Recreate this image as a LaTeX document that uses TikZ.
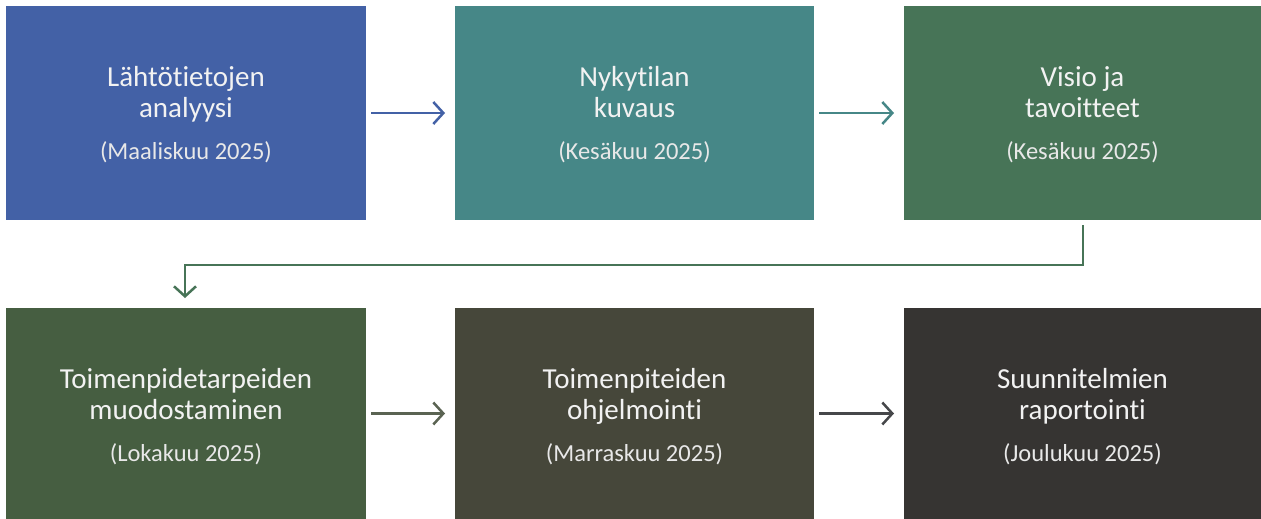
\documentclass[tikz,border=0pt]{standalone}
\usepackage{fontspec}
\setmainfont{Carlito}[Ligatures={NoCommon}]
\usetikzlibrary{arrows.meta,calc}
\definecolor{cA}{HTML}{4361A6}
\definecolor{cB}{HTML}{468787}
\definecolor{cC}{HTML}{477457}
\definecolor{cD}{HTML}{465E41}
\definecolor{cE}{HTML}{46473A}
\definecolor{cF}{HTML}{363432}
\definecolor{aD}{HTML}{5A6352}
\definecolor{aE}{HTML}{46474A}
\definecolor{txt}{HTML}{F2F2F2}
\definecolor{txtd}{HTML}{E8E8E8}
\tikzset{
  stepbox/.style={rectangle, inner sep=0pt, outer sep=0pt, draw=none, anchor=north west},
  titletext/.style={font=\fontsize{29}{35}\selectfont, text=txt, anchor=base, inner sep=0pt},
  datetext/.style={font=\fontsize{24.5}{29}\selectfont, text=txtd, anchor=base, inner sep=0pt},
  flow/.style={line width=2.5pt, -{Straight Barb[length=10pt,width=22pt,line width=2.5pt]}},
}
\newcommand\mkstep[9]{%
  \node[stepbox, fill=#4, minimum width=#5pt, minimum height=#6pt] (#1) at (#2,#3) {};
  \node[titletext] (#1t) at ($(#1.north)+(0,80)$) {#7};
  \node[titletext] (#1u) at ($(#1.north)+(0,111)$) {#8};
  \node[datetext] (#1d) at ($(#1.north)+(0,153)$) {#9};
}
\begin{document}
\begin{tikzpicture}[x=1pt,y=-1pt]
\useasboundingbox (0,0) rectangle (1261,519);
\fill[white] (0,0) rectangle (1261,519);
\mkstep{b1}{6}{6}{cA}{360}{214}{Lähtötietojen}{analyysi}{(Maaliskuu 2025)}
\mkstep{b2}{455}{6}{cB}{359}{214}{Nykytilan}{kuvaus}{(Kesäkuu 2025)}
\mkstep{b3}{904}{6}{cC}{357}{214}{Visio ja}{tavoitteet}{(Kesäkuu 2025)}
\mkstep{b4}{6}{308}{cD}{360}{211}{Toimenpidetarpeiden}{muodostaminen}{(Lokakuu 2025)}
\mkstep{b5}{455}{308}{cE}{359}{211}{Toimenpiteiden}{ohjelmointi}{(Marraskuu 2025)}
\mkstep{b6}{904}{308}{cF}{357}{211}{Suunnitelmien}{raportointi}{(Joulukuu 2025)}
\draw[flow, cA] ($(b1.east)+(5,0)$) -- ($(b2.west)+(-10,0)$);
\draw[flow, cB] ($(b2.east)+(5,0)$) -- ($(b3.west)+(-10,0)$);
\coordinate (c1) at ($(b3.south west)+(179,5)$);
\coordinate (c2) at ($(b3.south west)+(179,45)$);
\coordinate (c3) at ($(b4.north west)+(179,-43)$);
\draw[flow, cC] (c1) -- (c2) -- (c3) -- ($(b4.north west)+(179,-10)$);
\draw[flow, aD] ($(b4.east)+(5,0)$) -- ($(b5.west)+(-10,0)$);
\draw[flow, aE] ($(b5.east)+(5,0)$) -- ($(b6.west)+(-10,0)$);
\end{tikzpicture}
\end{document}
